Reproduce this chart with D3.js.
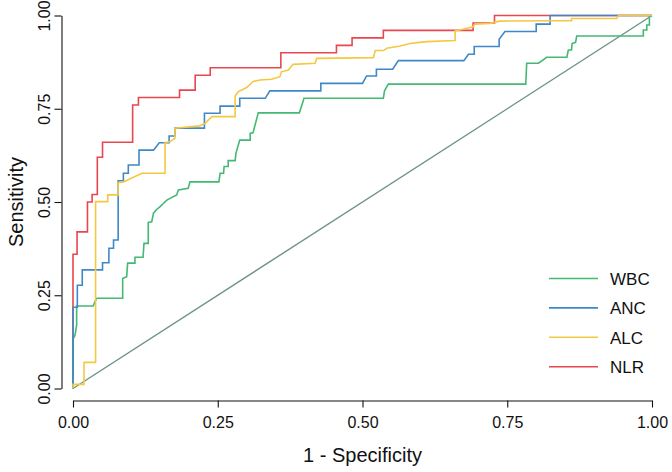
<!DOCTYPE html>
<html>
<head>
<meta charset="utf-8">
<script src="https://cdn.jsdelivr.net/npm/d3@7"></script>
<style>
  html, body { margin: 0; padding: 0; background: #fff; }
  svg { display: block; font-family: "Liberation Sans", Arial, sans-serif; }
</style>
</head>
<body>
<svg id="chart" width="672" height="472"></svg>
<script>
// ---- data: [1 - specificity, sensitivity] ----
const seriesNames = ["WBC", "ANC", "ALC", "NLR"];
const seriesColors = ["#45b874", "#3f88c8", "#f4c842", "#e8474f"];
const tickValues = [0, 0.25, 0.5, 0.75, 1];

const wbc = [[0,0],[0,0.132],[0.0035,0.143],[0.0063,0.170],[0.0063,0.221],[0.035,0.221],[0.038,0.233],[0.041,0.242],[0.0858,0.242],[0.0858,0.295],[0.0927,0.300],[0.0944,0.336],[0.107,0.336],[0.107,0.352],[0.121,0.352],[0.1226,0.389],[0.130,0.389],[0.130,0.445],[0.136,0.447],[0.139,0.470],[0.1445,0.480],[0.150,0.487],[0.156,0.496],[0.162,0.505],[0.179,0.519],[0.182,0.532],[0.199,0.537],[0.202,0.554],[0.252,0.554],[0.254,0.577],[0.260,0.577],[0.261,0.595],[0.268,0.595],[0.268,0.611],[0.280,0.611],[0.2815,0.631],[0.288,0.666],[0.306,0.666],[0.306,0.684],[0.311,0.686],[0.320,0.739],[0.391,0.739],[0.399,0.778],[0.536,0.778],[0.538,0.798],[0.5446,0.816],[0.782,0.816],[0.7836,0.872],[0.804,0.872],[0.818,0.888],[0.853,0.888],[0.8555,0.9075],[0.861,0.9075],[0.862,0.925],[0.868,0.928],[0.870,0.945],[0.985,0.945],[0.985,0.961],[0.991,0.961],[0.991,0.9745],[0.9955,0.9745],[0.9955,0.997],[1,1]];

const anc = [[0,0],[0,0.218],[0.0075,0.218],[0.0075,0.277],[0.016,0.277],[0.016,0.318],[0.051,0.318],[0.051,0.337],[0.062,0.337],[0.062,0.376],[0.070,0.376],[0.070,0.398],[0.078,0.398],[0.078,0.557],[0.087,0.557],[0.087,0.577],[0.0955,0.577],[0.0955,0.599],[0.114,0.599],[0.114,0.639],[0.139,0.639],[0.149,0.659],[0.166,0.659],[0.166,0.677],[0.176,0.677],[0.176,0.698],[0.227,0.698],[0.227,0.738],[0.254,0.738],[0.254,0.757],[0.288,0.757],[0.288,0.778],[0.332,0.778],[0.340,0.798],[0.428,0.798],[0.428,0.818],[0.500,0.818],[0.507,0.838],[0.524,0.838],[0.524,0.856],[0.552,0.856],[0.562,0.879],[0.675,0.879],[0.683,0.896],[0.693,0.896],[0.693,0.917],[0.736,0.917],[0.736,0.936],[0.746,0.957],[0.800,0.957],[0.800,0.977],[0.824,0.977],[0.824,1],[1,1]];

const alc = [[0,0],[0,0.011],[0.019,0.011],[0.019,0.070],[0.039,0.070],[0.039,0.501],[0.060,0.501],[0.060,0.519],[0.078,0.519],[0.078,0.552],[0.087,0.554],[0.0997,0.563],[0.119,0.577],[0.159,0.577],[0.159,0.659],[0.168,0.662],[0.176,0.671],[0.176,0.698],[0.219,0.704],[0.228,0.711],[0.240,0.729],[0.280,0.729],[0.280,0.784],[0.2855,0.796],[0.300,0.807],[0.311,0.823],[0.323,0.827],[0.343,0.829],[0.3575,0.836],[0.360,0.849],[0.372,0.854],[0.380,0.869],[0.418,0.872],[0.421,0.885],[0.519,0.887],[0.522,0.906],[0.536,0.906],[0.542,0.912],[0.565,0.918],[0.582,0.925],[0.599,0.928],[0.611,0.930],[0.660,0.933],[0.660,0.959],[0.668,0.961],[0.691,0.970],[0.694,0.977],[0.720,0.979],[0.737,0.985],[0.824,0.986],[0.861,0.986],[0.861,0.992],[0.939,0.992],[0.942,1],[1,1]];

const nlr = [[0,0],[0,0.36],[0.007,0.36],[0.007,0.42],[0.025,0.42],[0.025,0.50],[0.033,0.50],[0.033,0.52],[0.042,0.52],[0.042,0.62],[0.051,0.62],[0.051,0.66],[0.103,0.66],[0.103,0.76],[0.113,0.76],[0.113,0.78],[0.184,0.78],[0.184,0.80],[0.211,0.80],[0.211,0.84],[0.237,0.84],[0.237,0.86],[0.359,0.86],[0.359,0.90],[0.455,0.90],[0.455,0.92],[0.482,0.92],[0.482,0.94],[0.536,0.94],[0.536,0.96],[0.691,0.96],[0.691,0.98],[0.728,0.98],[0.728,1],[1,1]];

const diagonal = [[0,0],[1,1]];

// ---- drawing ----
const svg = d3.select("#chart");
const x = d3.scaleLinear().domain([0, 1]).range([73, 652]);
const y = d3.scaleLinear().domain([0, 1]).range([388.5, 15.5]);

const line = d3.line().x(d => x(d[0])).y(d => y(d[1]));

svg.append("path").datum(diagonal)
  .attr("d", line).attr("fill", "none")
  .attr("stroke", "#6a9488").attr("stroke-width", 1.4);

const seriesData = { WBC: wbc, ANC: anc, ALC: alc, NLR: nlr };
const drawOrder = ["NLR", "WBC", "ANC", "ALC"];
drawOrder.forEach(name => {
  const i = seriesNames.indexOf(name);
  svg.append("path").datum(seriesData[name])
    .attr("d", line).attr("fill", "none")
    .attr("stroke", seriesColors[i]).attr("stroke-width", 1.6)
    .attr("stroke-linejoin", "miter");
});

// x axis
const xAxis = svg.append("g").attr("transform", "translate(0,400.5)")
  .call(d3.axisBottom(x).tickValues(tickValues).tickFormat(d3.format(".2f"))
    .tickSize(7).tickSizeOuter(0));
xAxis.select(".domain").attr("stroke", "#111").attr("stroke-width", 1.1);
xAxis.selectAll(".tick line").attr("stroke", "#111").attr("stroke-width", 1.1);
xAxis.selectAll(".tick text")
  .attr("y", 27.5).attr("dy", 0)
  .attr("font-size", 16).attr("font-family", "Liberation Sans, Arial, sans-serif")
  .attr("fill", "#111");

// y axis
const yAxis = svg.append("g").attr("transform", "translate(61.5,0)")
  .call(d3.axisLeft(y).tickValues(tickValues).tickFormat(d3.format(".2f"))
    .tickSize(7).tickSizeOuter(0));
yAxis.select(".domain").attr("stroke", "#111").attr("stroke-width", 1.1);
yAxis.selectAll(".tick line").attr("stroke", "#111").attr("stroke-width", 1.1);
yAxis.selectAll(".tick text")
  .attr("x", 0).attr("dy", 0)
  .attr("transform", "translate(-11.5,0) rotate(-90)")
  .attr("text-anchor", "middle")
  .attr("font-size", 16).attr("font-family", "Liberation Sans, Arial, sans-serif")
  .attr("fill", "#111");

// axis titles
svg.append("text")
  .attr("x", (x(0) + x(1)) / 2).attr("y", 461.5)
  .attr("text-anchor", "middle").attr("font-size", 20).attr("fill", "#111")
  .text("1 - Specificity");
svg.append("text")
  .attr("transform", `translate(23,${(y(0) + y(1)) / 2}) rotate(-90)`)
  .attr("text-anchor", "middle").attr("font-size", 20).attr("fill", "#111")
  .text("Sensitivity");

// legend
const legend = svg.append("g");
seriesNames.forEach((name, i) => {
  const ly = 278.5 + i * 29.4;
  legend.append("line")
    .attr("x1", 549).attr("x2", 598).attr("y1", ly).attr("y2", ly)
    .attr("stroke", seriesColors[i]).attr("stroke-width", 1.6);
  legend.append("text")
    .attr("x", 610).attr("y", ly + 6.2)
    .attr("font-size", 17).attr("fill", "#111")
    .text(name);
});
</script>
</body>
</html>
